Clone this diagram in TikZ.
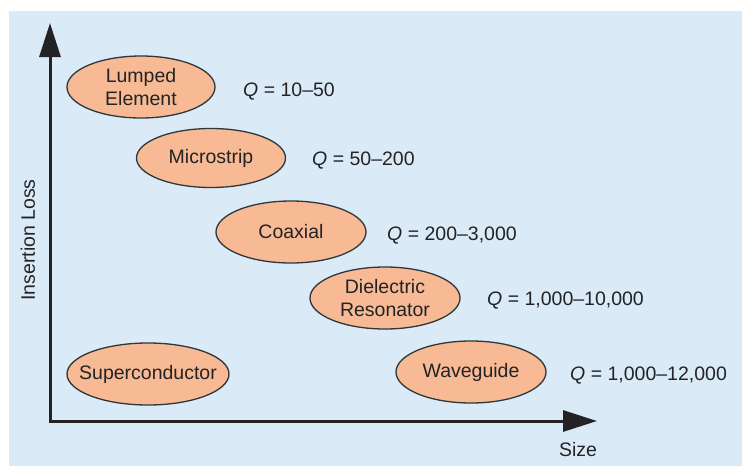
\documentclass[tikz,border=0pt]{standalone}
\usepackage{fontspec}
\setmainfont{Liberation Sans}
\usetikzlibrary{arrows.meta,shapes.geometric}
\definecolor{bg}{RGB}{218,234,246}
\definecolor{salmon}{RGB}{247,186,148}
\definecolor{edge}{RGB}{45,55,60}
\definecolor{ink}{RGB}{35,35,38}
\begin{document}
\begin{tikzpicture}[x=1pt,y=-1pt,
  oval/.style={ellipse, draw=edge, line width=1.3pt, fill=salmon, inner sep=0pt, minimum height=62pt},
  txt/.style={font=\fontsize{19.5}{23.5}\selectfont, text=ink, align=center, inner sep=0pt},
  qlab/.style={txt, anchor=base west},
  axis/.style={draw=ink, line width=3pt, {Triangle[length=34pt,width=21pt]}-{Triangle[length=34pt,width=21pt]}}]
\useasboundingbox (0,0) rectangle (742,466);
\fill[bg] (9,11) rectangle (742,466);
% axes
\coordinate (ytip) at (50,23);
\coordinate (o) at (50,421);
\coordinate (xtip) at (597,421);
\draw[axis, line join=miter] (ytip) -- (o) -- (xtip);
\node[txt, rotate=90] (ylab) at (28,240) {Insertion Loss};
\node[txt] (xlab) at (578,450) {Size};
% ellipses
\node[oval, minimum width=148pt] (lumped) at (141,87) {};
\node[txt] (lumpedt) at (lumped) {Lumped\\Element};
\node[oval, minimum width=149pt, minimum height=59pt] (micro) at (211,158) {};
\node[txt] (microt) at (micro) {Microstrip};
\node[oval, minimum width=150pt] (coax) at (291,232) {};
\node[txt] (coaxt) at (coax) {Coaxial};
\node[oval, minimum width=150pt] (diel) at (385,298) {};
\node[txt] (dielt) at (diel) {Dielectric\\Resonator};
\node[oval, minimum width=150pt] (wave) at (471,372) {};
\node[txt] (wavet) at (wave) {Waveguide};
\node[oval, minimum width=162pt] (super) at (148,374) {};
\node[txt] (supert) at (super) {Superconductor};
% Q labels
\node[qlab] (q1) at (243,96) {\itshape Q\upshape{} = 10–50};
\node[qlab] (q2) at (312,165) {\itshape Q\upshape{} = 50–200};
\node[qlab] (q3) at (387,240) {\itshape Q\upshape{} = 200–3,000};
\node[qlab] (q4) at (487,305) {\itshape Q\upshape{} = 1,000–10,000};
\node[qlab] (q5) at (570,380) {\itshape Q\upshape{} = 1,000–12,000};
\end{tikzpicture}
\end{document}
